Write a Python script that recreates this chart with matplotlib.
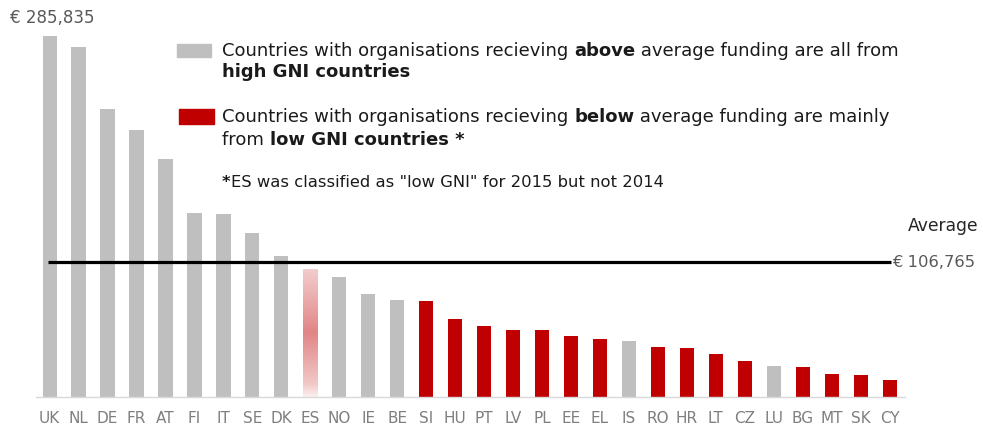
import numpy as np
import matplotlib
matplotlib.use("Agg")
import matplotlib.pyplot as plt
from matplotlib.colors import to_rgb

countries = ["UK", "NL", "DE", "FR", "AT", "FI", "IT", "SE", "DK", "ES", "NO", "IE", "BE",
             "SI", "HU", "PT", "LV", "PL", "EE", "EL", "IS", "RO", "HR", "LT", "CZ", "LU",
             "BG", "MT", "SK", "CY"]
funding = [285835, 277100, 227800, 211200, 188300, 145800, 144800, 129500, 111300, 101500,
           94700, 81700, 76700, 75900, 61900, 56200, 53000, 52800, 48000, 45600, 44500,
           39800, 39000, 34000, 28500, 24300, 23500, 18400, 17600, 13700]
gni_group = ["high"] * 9 + ["mixed"] + ["high"] * 3 + ["low"] * 7 + ["high"] + ["low"] * 4 + \
            ["high"] + ["low"] * 4
average = 106765

GREY = "#BFBFBF"
RED = "#C00000"
TEXT = "#1a1a1a"

W, H = 983, 430
fig = plt.figure(figsize=(W / 100, H / 100), dpi=100)
ax = fig.add_axes([36 / W, (H - 397) / H, (905 - 36) / W, (397 - 20) / H])

x = np.arange(len(countries))
colors = [GREY if g == "high" else (RED if g == "low" else "none") for g in gni_group]
bars = ax.bar(x, funding, width=0.49, color=colors, zorder=2)

# ES bar: faded red gradient
for i, g in enumerate(gni_group):
    if g == "mixed":
        b = bars[i]
        n = 200
        t = np.linspace(0, 1, n)  # 0 bottom -> 1 top
        alpha = np.interp(t, [0, 0.1, 0.5, 0.85, 1.0], [0.06, 0.22, 0.48, 0.28, 0.2])
        r, gg, bb = to_rgb(RED)
        img = np.zeros((n, 1, 4))
        img[:, 0, 0], img[:, 0, 1], img[:, 0, 2] = r, gg, bb
        img[:, 0, 3] = alpha
        im = ax.imshow(img, extent=[x[i] - 0.245, x[i] + 0.245, 0, funding[i]],
                       origin="lower", aspect="auto", zorder=2, interpolation="bilinear")
        im.set_clip_path(b)

ax.set_xlim(-0.47, len(countries) - 1 + 0.53)
ax.set_ylim(0, 377 * 791.1)

# average line
ax.plot([-0.05, len(countries) - 1 + 0.04], [average, average], color="black", lw=2.3,
        zorder=3, solid_capstyle="butt")
ax.text(len(countries) - 1 + 0.1, average, "€ 106,765", va="center", ha="left",
        fontsize=11.8, color="#595959")
fig.text(908 / W, 1 - 226 / H, "Average", va="center", ha="left",
         fontsize=12.3, color="#262626")

for s in ["top", "right", "left"]:
    ax.spines[s].set_visible(False)
ax.spines["bottom"].set_color("#D9D9D9")
ax.spines["bottom"].set_linewidth(1.0)
ax.set_yticks([])
ax.set_xticks(x)
ax.set_xticklabels(countries, fontsize=11, color="#7F7F7F")
ax.tick_params(axis="x", length=0, pad=10)

fig.text(10 / W, 1 - 18 / H, "€ 285,835", fontsize=12, color="#595959", va="center", ha="left")


def draw_rich(xpx, ypx, pieces, size):
    renderer = fig.canvas.get_renderer()
    xcur = xpx
    for txt, bold in pieces:
        t = fig.text(xcur / W, 1 - ypx / H, txt, fontsize=size, color=TEXT,
                     fontweight="bold" if bold else "normal", va="baseline", ha="left")
        bb = t.get_window_extent(renderer=renderer)
        xcur += bb.width


# legend swatches
fig.patches.append(plt.Rectangle((177 / W, 1 - 57 / H), 34 / W, 12.5 / H, color=GREY,
                                 transform=fig.transFigure, figure=fig))
fig.patches.append(plt.Rectangle((179 / W, 1 - 123.5 / H), 35 / W, 14.5 / H, color=RED,
                                 transform=fig.transFigure, figure=fig))

LS = 13
draw_rich(222, 56, [("Countries with organisations recieving ", False), ("above", True),
                    (" average funding are all from", False)], LS)
draw_rich(222, 77, [("high GNI countries", True)], LS)
draw_rich(222, 122, [("Countries with organisations recieving ", False), ("below", True),
                     (" average funding are mainly", False)], LS)
draw_rich(222, 145, [("from ", False), ("low GNI countries *", True)], LS)
draw_rich(222, 187, [("*", True), ("ES was classified as \"low GNI\" for 2015 but not 2014", False)],
          11.8)

fig.savefig("out.png", dpi=100)
